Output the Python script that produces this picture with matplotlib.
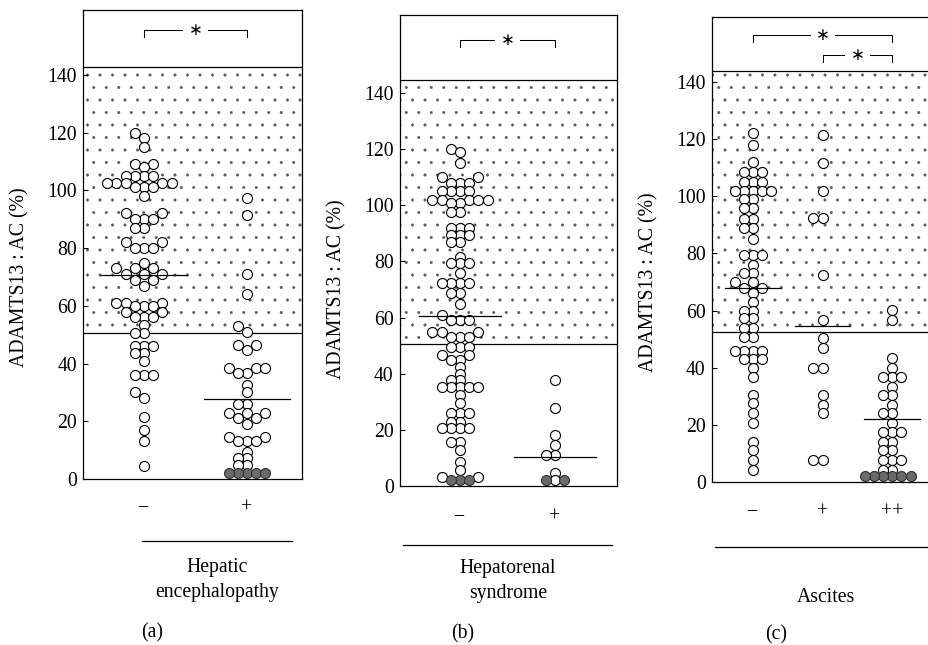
import matplotlib
matplotlib.use("Agg")
import matplotlib.pyplot as plt
from matplotlib.lines import Line2D
import numpy as np

# ---------------- data ----------------
# (a) Hepatic encephalopathy
a_groups = ["\u2212", "+"]
a_neg = [120, 118, 115, 109, 109, 108, 105, 105, 105, 105, 102.5, 102.5, 102.5, 102.5, 102.5,
         101, 101, 101, 98, 92, 92, 90, 90, 90, 87, 87, 82, 82, 80, 80, 80,
         75, 73, 73, 73, 71, 71, 71, 69, 69, 67, 61, 61, 61, 60, 60, 60, 58, 58,
         56, 56, 56, 53.5, 50.6, 50.6, 46, 46, 46, 43.6, 43.6, 41, 36, 36, 36,
         30, 28, 21.5, 17, 13, 4.5]
a_pos = [97.5, 91.5, 71, 64, 53, 51, 46.5, 46.5, 44.7, 38.5, 38.5, 38.5, 36.7, 36.7, 32.5, 30,
         26, 26, 23, 23, 23, 21, 21, 19, 14.6, 14.6, 13, 13, 13, 9.4, 7.3, 7.3, 5, 5]
a_neg_below = []
a_pos_below = [2, 2, 2, 2, 2]
a_means = [70.7, 27.7]
a_normal = (50.6, 142.8)
a_sig = [(0, 1)]

# (b) Hepatorenal syndrome
b_groups = ["\u2212", "+"]
b_neg = [120, 119, 115, 110, 110, 108, 108, 108, 105, 105, 105, 105, 102, 102, 102, 102, 102,
         101, 101, 97.6, 97.6, 92, 92, 92, 89.4, 89.4, 89.4, 87, 87, 81.6, 79.4, 79.4, 79.4,
         75.9, 72.3, 72.3, 72.3, 72.3, 68.7, 68.7, 65, 61, 59, 59, 59, 55, 55, 55, 53, 53, 53,
         49.5, 49.5, 49.5, 46.7, 46.7, 45, 45, 42.5, 40, 37.8, 37.8, 35.3, 35.3, 35.3, 35.3, 35.3,
         32.4, 29.5, 26, 26, 26, 22.8, 22.8, 20.7, 20.7, 20.7, 20.7, 15.7, 15.7, 12.8, 8.5, 5.7,
         3.2, 3.2]
b_pos = [37.8, 27.8, 18.2, 14.6, 11, 11, 4.6, 2]
b_neg_below = [2, 2, 2]
b_pos_below = [2, 2]
b_means = [60.6, 10.3]
b_normal = (50.6, 144.6)
b_sig = [(0, 1)]

# (c) Ascites
c_groups = ["\u2212", "+", "++"]
c_neg = [122, 118, 112, 108.6, 108.6, 108.6, 105, 105, 105, 102, 102, 102, 102, 102, 99, 99,
         95.8, 95.8, 92, 92, 88.8, 88.8, 85, 79.5, 79.5, 79.5, 76, 73, 73, 70, 70, 68, 68, 66, 63,
         60, 60, 57.4, 57.4, 54, 54, 50.8, 50.8, 46, 46, 46, 46, 43, 43, 43, 40, 36.8,
         30.4, 27.6, 24, 20.6, 14, 11.2, 7.7, 4.2]
c_pos = [121.5, 111.6, 101.9, 92.4, 92.4, 72.5, 56.7, 50.4, 46.9, 40, 40, 30.5, 27, 24, 7.7, 7.7]
c_pp = [60.2, 56.7, 43.4, 40, 36.8, 36.8, 36.8, 33.3, 30.5, 30.5, 27, 24, 24, 20.6,
        17.5, 17.5, 17.5, 14, 14, 11.2, 11.2, 7.7, 7.7, 7.7, 4.2, 4.2]
c_below = [[], [], [2, 2, 2, 2, 2, 2]]
c_means = [67.8, 54.6, 22.0]
c_normal = (52.5, 143.9)
c_sig = [(0, 2), (1, 2)]

yticks = [0, 20, 40, 60, 80, 100, 120, 140]
ylabel = "ADAMTS13 : AC (%)"

# ---------------- layout (pixels) ----------------
DPI = 150
W, H = 928, 645
plt.rcParams["font.family"] = ["Liberation Serif", "DejaVu Serif"]
plt.rcParams["hatch.linewidth"] = 0.2

fig = plt.figure(figsize=(W / DPI, H / DPI), dpi=DPI)
FS = 9.5
DIAM = 10.0  # marker diameter px
S = (DIAM * 72 / DPI) ** 2
LW = 0.55


def px_axes(l, r, t, b):
    return fig.add_axes([l / W, 1 - b / H, (r - l) / W, (b - t) / H])


def swarm(ax, xc, values, min_dy=0.58):
    t = ax.transData
    pxx = t.transform((1, 0))[0] - t.transform((0, 0))[0]
    pxy = t.transform((0, 1))[1] - t.transform((0, 0))[1]
    values = np.asarray(values, float)
    order = np.argsort(values, kind="stable")
    xs = np.zeros(len(values))
    placed = []
    for i in order:
        ypx = values[i] * pxy
        for k in [0, -1, 1, -2, 2, -3, 3, -4, 4, -5, 5]:
            xpx = k * DIAM * 0.92
            if all(not (abs(xpx - px) < 0.5 * DIAM and abs(ypx - py) < min_dy * DIAM)
                   for px, py in placed):
                break
        placed.append((xpx, ypx))
        xs[i] = xc + xpx / pxx
    return xs


def panel(rect, xlim, ylim_top, groups, data, below, means, normal, sigs, mean_w,
          sig_y, tick_pad):
    ax = px_axes(*rect)
    ax.set_xlim(*xlim)
    ax.set_ylim(0, ylim_top)
    for sp in ax.spines.values():
        sp.set_linewidth(0.6)
    ax.axhspan(normal[0], normal[1], facecolor="white", edgecolor="0.35", hatch="..",
               linewidth=0, zorder=0)
    ax.axhline(normal[0], color="black", lw=0.6, zorder=1)
    ax.axhline(normal[1], color="black", lw=0.6, zorder=1)
    ax.set_yticks(yticks)
    ax.set_yticklabels([str(v) for v in yticks], fontsize=FS)
    ax.tick_params(axis="y", direction="in", length=2.6, width=0.5, pad=3)
    ax.set_xticks([])
    ax.set_ylabel(ylabel, fontsize=FS)
    width_px = rect[1] - rect[0]
    ax.yaxis.set_label_coords(-54.0 / width_px, 70 / ylim_top)
    for i, (vals, bel) in enumerate(zip(data, below)):
        allv = list(vals) + list(bel)
        xs = swarm(ax, i, allv)
        n = len(vals)
        ax.scatter(xs[:n], vals, s=S, facecolor="white", edgecolor="black",
                   linewidth=LW, zorder=3, clip_on=False)
        if len(bel):
            ax.scatter(xs[n:], bel, s=S, facecolor="#6a6a6a", edgecolor="#333333",
                       linewidth=LW, zorder=4, clip_on=False)
        ax.plot([i - mean_w / 2, i + mean_w / 2], [means[i], means[i]], color="black",
                lw=0.6, zorder=5)
        ax.annotate(groups[i], xy=(i, 0), xycoords=("data", "axes fraction"),
                    xytext=(0, -tick_pad), textcoords="offset points",
                    ha="center", va="center", fontsize=FS)
    for k, (g0, g1) in enumerate(sigs):
        y = sig_y[k]
        drop = 2.4
        ax.plot([g0, g0, g1, g1], [y - drop, y, y, y - drop], color="black", lw=0.5,
                zorder=5, clip_on=False)
        ax.text((g0 + g1) / 2, y, "\u2217", ha="center", va="center", fontsize=8,
                family="DejaVu Sans",
                bbox=dict(facecolor="white", edgecolor="none", pad=2.5), zorder=6)
    return ax


panel((83, 302, 10, 479), (-0.592, 1.534), 162.5, a_groups, [a_neg, a_pos],
      [a_neg_below, a_pos_below], a_means, a_normal, a_sig, 0.83, [155.6], 14)
panel((400, 617, 15, 486), (-0.632, 1.653), 167.8, b_groups, [b_neg, b_pos],
      [b_neg_below, b_pos_below], b_means, b_normal, b_sig, 0.87, [158.9], 15)
panel((712, 950, 17, 482), (-0.59, 2.83), 162.75, c_groups, [c_neg, c_pos, c_pp],
      c_below, c_means, c_normal, c_sig, 0.8, [156.4, 149.5], 14.5)


def hline_px(x0, x1, y):
    fig.add_artist(Line2D([x0 / W, x1 / W], [1 - y / H, 1 - y / H],
                          transform=fig.transFigure, color="black", lw=0.6))


hline_px(142, 292, 541)
hline_px(403, 612, 545)
hline_px(715, 928, 547)


def text_px(x, y, s):
    fig.text(x / W, 1 - y / H, s, ha="center", va="center", fontsize=FS,
             linespacing=1.45)


text_px(217, 580, "Hepatic\nencephalopathy")
text_px(508, 581, "Hepatorenal\nsyndrome")
text_px(826, 597, "Ascites")
text_px(152, 633, "(a)")
text_px(463, 634, "(b)")
text_px(776, 635, "(c)")

fig.savefig("out.png", dpi=DPI)
